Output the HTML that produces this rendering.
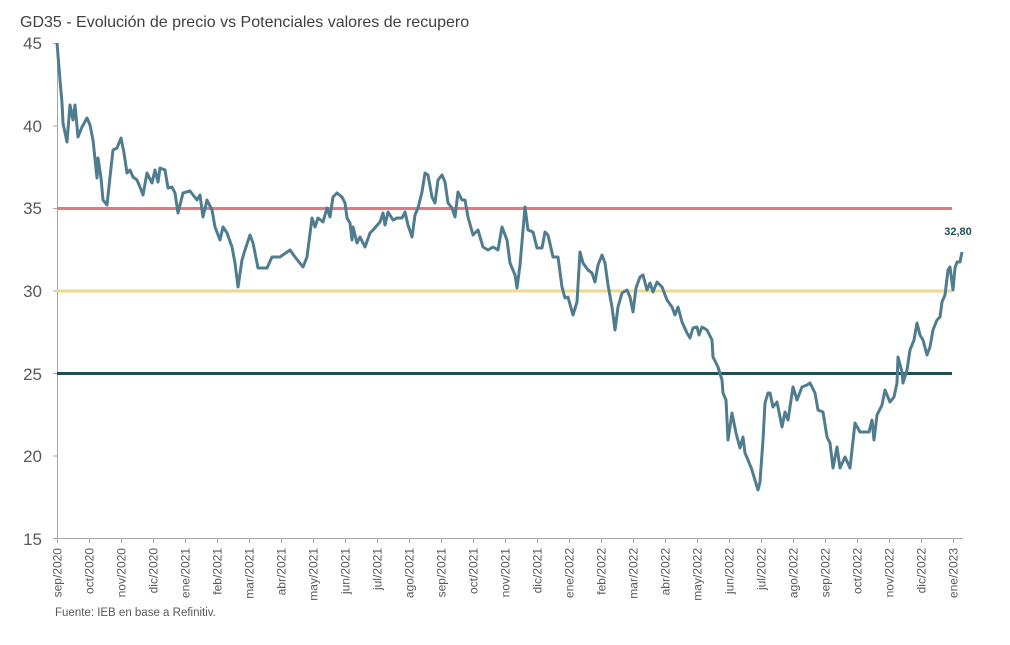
<!DOCTYPE html>
<html><head><meta charset="utf-8"><style>
body{margin:0;background:#fff;}
svg{display:block;font-family:"Liberation Sans",sans-serif;}
</style></head><body>
<svg width="1010" height="645" viewBox="0 0 1010 645" xmlns="http://www.w3.org/2000/svg">
<rect width="1010" height="645" fill="#fff"/>
<text x="20" y="27" font-size="16" fill="#404040">GD35 - Evolución de precio vs Potenciales valores de recupero</text>
<g font-size="17" fill="#595959" text-anchor="end">
<text x="42" y="49">45</text><text x="42" y="132">40</text><text x="42" y="214">35</text><text x="42" y="297">30</text><text x="42" y="380">25</text><text x="42" y="462">20</text><text x="42" y="545">15</text>
</g>
<g stroke="#a6a6a6" stroke-width="1">
<line x1="57.5" y1="43" x2="57.5" y2="539"/>
<line x1="57" y1="538.5" x2="963" y2="538.5"/>
<line x1="53" y1="43.5" x2="57" y2="43.5"/><line x1="53" y1="126" x2="57" y2="126"/><line x1="53" y1="208.5" x2="57" y2="208.5"/><line x1="53" y1="291" x2="57" y2="291"/><line x1="53" y1="373.5" x2="57" y2="373.5"/><line x1="53" y1="456" x2="57" y2="456"/><line x1="53" y1="538.5" x2="57" y2="538.5"/>
<path d="M57.5 538v5M89.5 538v5M121.5 538v5M153.5 538v5M185.5 538v5M217.5 538v5M249.5 538v5M281.5 538v5M313.5 538v5M345.5 538v5M377.5 538v5M409.5 538v5M441.5 538v5M473.5 538v5M505.5 538v5M537.5 538v5M569.5 538v5M601.5 538v5M633.5 538v5M665.5 538v5M697.5 538v5M729.5 538v5M761.5 538v5M793.5 538v5M825.5 538v5M857.5 538v5M889.5 538v5M921.5 538v5M953.5 538v5"/>
</g>
<g font-size="12" fill="#595959" text-anchor="end">
<text transform="translate(61.5,548) rotate(-90)">sep/2020</text>
<text transform="translate(93.5,548) rotate(-90)">oct/2020</text>
<text transform="translate(125.5,548) rotate(-90)">nov/2020</text>
<text transform="translate(157.5,548) rotate(-90)">dic/2020</text>
<text transform="translate(189.5,548) rotate(-90)">ene/2021</text>
<text transform="translate(221.5,548) rotate(-90)">feb/2021</text>
<text transform="translate(253.5,548) rotate(-90)">mar/2021</text>
<text transform="translate(285.5,548) rotate(-90)">abr/2021</text>
<text transform="translate(317.5,548) rotate(-90)">may/2021</text>
<text transform="translate(349.5,548) rotate(-90)">jun/2021</text>
<text transform="translate(381.5,548) rotate(-90)">jul/2021</text>
<text transform="translate(413.5,548) rotate(-90)">ago/2021</text>
<text transform="translate(445.5,548) rotate(-90)">sep/2021</text>
<text transform="translate(477.5,548) rotate(-90)">oct/2021</text>
<text transform="translate(509.5,548) rotate(-90)">nov/2021</text>
<text transform="translate(541.5,548) rotate(-90)">dic/2021</text>
<text transform="translate(573.5,548) rotate(-90)">ene/2022</text>
<text transform="translate(605.5,548) rotate(-90)">feb/2022</text>
<text transform="translate(637.5,548) rotate(-90)">mar/2022</text>
<text transform="translate(669.5,548) rotate(-90)">abr/2022</text>
<text transform="translate(701.5,548) rotate(-90)">may/2022</text>
<text transform="translate(733.5,548) rotate(-90)">jun/2022</text>
<text transform="translate(765.5,548) rotate(-90)">jul/2022</text>
<text transform="translate(797.5,548) rotate(-90)">ago/2022</text>
<text transform="translate(829.5,548) rotate(-90)">sep/2022</text>
<text transform="translate(861.5,548) rotate(-90)">oct/2022</text>
<text transform="translate(893.5,548) rotate(-90)">nov/2022</text>
<text transform="translate(925.5,548) rotate(-90)">dic/2022</text>
<text transform="translate(957.5,548) rotate(-90)">ene/2023</text>
</g>
<line x1="57" y1="208.5" x2="952" y2="208.5" stroke="#e07b7b" stroke-width="3"/>
<line x1="57" y1="291" x2="952" y2="291" stroke="#eed98a" stroke-width="3"/>
<line x1="57" y1="373.5" x2="952" y2="373.5" stroke="#1f4f52" stroke-width="3"/>
<polyline fill="none" stroke="#4f7c8f" stroke-width="3" stroke-linejoin="round" points="57,43 60,80 62,103 63,123 67,142 70,105 73,120 75,105 78,137 82,127 87,118 90,125 93,140 97,178 98,158 101,178 103,200 107,205 110,177 113,150 117,148 121,138 124,153 127,173 130,170 133,177 137,180 140,187 143,195 147,173 152,183 155,170 158,182 160,168 165,170 168,188 172,187 175,193 178,213 183,193 190,191 197,200 200,195 203,217 207,200 212,210 215,227 220,240 223,227 227,233 232,247 235,263 238,287 242,260 245,250 250,235 253,243 258,268 267,268 272,257 280,257 290,250 295,257 303,267 307,257 312,218 315,227 318,218 323,222 327,208 330,217 333,197 337,193 342,197 345,203 347,218 350,223 352,240 353,227 357,243 360,237 365,247 370,233 373,230 380,222 383,213 385,225 388,212 393,220 397,218 402,218 405,212 408,225 412,237 415,215 418,208 422,192 425,173 428,175 432,197 435,203 438,180 442,175 445,182 448,203 452,208 455,217 458,192 462,200 465,200 468,217 473,235 478,230 483,247 488,250 493,247 498,250 502,227 507,240 510,263 515,275 517,288 520,265 525,207 528,230 533,232 537,248 542,248 545,232 548,235 553,257 558,257 562,287 565,298 568,297 573,315 577,302 580,252 583,263 588,270 592,273 595,282 598,265 602,255 605,263 608,285 612,307 615,330 618,307 622,293 627,290 630,297 633,312 636,288 640,277 643,275 647,290 650,283 653,292 657,282 662,287 667,300 672,307 675,315 678,307 682,322 687,333 690,338 693,328 697,327 699,335 702,327 707,330 712,340 713,357 718,367 722,380 723,393 726,400 728,440 732,413 736,433 740,448 743,437 745,453 748,460 752,470 754,477 758,490 760,482 763,440 765,403 768,393 770,393 773,407 777,402 782,427 785,412 788,420 793,387 797,400 802,387 807,385 810,383 815,393 818,410 823,412 827,437 830,443 833,468 837,447 840,468 845,457 850,468 855,423 860,432 865,432 869,432 872,420 874,440 877,415 882,405 885,390 890,402 894,397 897,383 898,357 902,372 903,383 907,370 910,350 914,340 917,323 920,335 923,340 927,355 930,347 933,330 937,320 940,317 942,302 945,295 948,270 950,267 953,290 955,268 957,262 960,262 962,252"/>
<text x="958" y="235" font-size="11" font-weight="bold" fill="#1f4f5a" text-anchor="middle">32,80</text>
<text x="55" y="616" font-size="11.5" fill="#595959">Fuente: IEB en base a Refinitiv.</text>
</svg>
</body></html>
